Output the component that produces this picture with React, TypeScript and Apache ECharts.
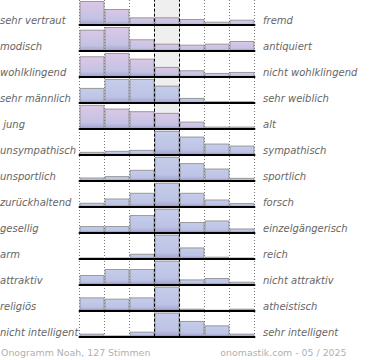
import React, { useEffect, useRef } from "react";
import * as echarts from "echarts";

const bins = ["1", "2", "3", "4", "5", "6", "7"];

const leftLabels = [
  "sehr vertraut", "modisch", "wohlklingend", "sehr männlich", " jung",
  "unsympathisch", "unsportlich", "zurückhaltend", "gesellig", "arm",
  "attraktiv", "religiös", "nicht intelligent",
];

const rightLabels = [
  "fremd", "antiquiert", "nicht wohlklingend", "sehr weiblich", "alt",
  "sympathisch", "sportlich", "forsch", "einzelgängerisch", "reich",
  "nicht attraktiv", "atheistisch", "sehr intelligent",
];

// relative share per bin, normalised so that the top bin of each row = 24
const ratings: number[][] = [
  [24, 16, 7.7, 7.7, 6, 3.3, 5.3],
  [21.3, 24, 11.7, 7.3, 6.3, 7.3, 10],
  [20.7, 24, 18.3, 10, 6.7, 4, 5],
  [15, 24, 24, 17.3, 5, 1.7, 1.7],
  [24, 20.3, 17.7, 16, 7.3, 2.3, 2.3],
  [3, 4, 5, 24, 18.3, 11.3, 9.3],
  [3.3, 4.7, 11, 24, 17.7, 12.3, 3],
  [4, 8.3, 14, 24, 14, 7.3, 3.7],
  [6.7, 6.7, 17.7, 24, 10.7, 12.3, 4.3],
  [1, 1, 5, 24, 11.3, 2, 1],
  [9.7, 15.7, 15.7, 24, 5.3, 6.7, 3],
  [13.3, 12, 13.3, 24, 2, 0.6, 2],
  [3, 1, 5, 24, 15.7, 11.3, 3],
];

const pinkRows = [0, 1, 2, 4];

const footerLeft = "Onogramm Noah, 127 Stimmen";
const footerRight = "onomastik.com - 05 / 2025";

export default function App() {
  const ref = useRef<HTMLDivElement>(null);

  useEffect(() => {
    if (!ref.current) return;
    const chart = echarts.init(ref.current, undefined, { renderer: "svg" });

    const plotLeft = 79.5;
    const plotWidth = 175;
    const baseline0 = 25;
    const rowH = 25.97;
    const barMax = 24;
    const n = ratings.length;
    const font = '"DejaVu Sans", sans-serif';

    const grids: any[] = [];
    const xAxes: any[] = [];
    const yAxes: any[] = [];
    const series: any[] = [];

    // background grid (index 0): dotted column lines, grey middle band, dashed lines
    grids.push({ left: plotLeft, width: plotWidth, top: 0, height: baseline0 + (n - 1) * rowH });
    xAxes.push({
      type: "value", gridIndex: 0, min: 0, max: 7, interval: 1,
      axisLine: { show: false }, axisTick: { show: false }, axisLabel: { show: false },
      splitLine: { show: true, lineStyle: { color: "#777", type: [1, 2], width: 1 } },
      z: 0,
    });
    yAxes.push({ type: "value", gridIndex: 0, min: 0, max: 1, show: false });
    series.push({
      type: "line", xAxisIndex: 0, yAxisIndex: 0, data: [], z: 0, silent: true,
      markArea: {
        silent: true,
        itemStyle: { color: "#efefef" },
        data: [[{ xAxis: 3 }, { xAxis: 4 }]],
      },
    });
    series.push({
      type: "line", xAxisIndex: 0, yAxisIndex: 0, data: [], z: 10, silent: true,
      markLine: {
        silent: true, symbol: "none", label: { show: false },
        lineStyle: { color: "#000", type: [3, 2], width: 1 },
        data: [{ xAxis: 3 }, { xAxis: 4 }],
      },
    });

    ratings.forEach((row, i) => {
      const gi = i + 1;
      const base = baseline0 + i * rowH;
      grids.push({ left: plotLeft, width: plotWidth, top: base - barMax, height: barMax });
      xAxes.push({
        type: "category", gridIndex: gi, data: bins, boundaryGap: true,
        axisLine: { show: true, lineStyle: { color: "#000", width: 2 } },
        axisTick: { show: false }, axisLabel: { show: false }, splitLine: { show: false },
        z: 8,
      });
      yAxes.push({ type: "value", gridIndex: gi, min: 0, max: barMax, show: false });
      const pink = pinkRows.includes(i);
      series.push({
        type: "bar", xAxisIndex: gi, yAxisIndex: gi, data: row,
        barWidth: "100%", barCategoryGap: "0%", z: 2, silent: true,
        itemStyle: {
          borderColor: "rgba(140,140,140,0.85)", borderWidth: 1,
          color: new echarts.graphic.LinearGradient(0, 0, 0, 1, [
            { offset: 0, color: pink ? "#dcc7e6" : "#c5cdea" },
            { offset: 0.75, color: pink ? "#c3c3e4" : "#bcc3e5" },
            { offset: 1, color: "#a8a2d2" },
          ]),
        },
      });
    });

    const graphics: any[] = [];
    leftLabels.forEach((t, i) => {
      const y = baseline0 - 4.5 + i * rowH;
      graphics.push({
        type: "text", x: 0, y, silent: true,
        style: { text: t, fill: "#666", font: `italic 10px ${font}`, textAlign: "left", textVerticalAlign: "middle", align: "left", verticalAlign: "middle" },
      });
    });
    rightLabels.forEach((t, i) => {
      const y = baseline0 - 4.5 + i * rowH;
      graphics.push({
        type: "text", x: 263, y, silent: true,
        style: { text: t, fill: "#666", font: `italic 10px ${font}`, textAlign: "left", textVerticalAlign: "middle", align: "left", verticalAlign: "middle" },
      });
    });
    graphics.push({
      type: "text", x: 1, y: 352.5, silent: true,
      style: { text: footerLeft, fill: "#b0b0b0", font: `9.4px ${font}`, textAlign: "left", textVerticalAlign: "middle", align: "left", verticalAlign: "middle" },
    });
    graphics.push({
      type: "text", x: 346.5, y: 352.5, silent: true,
      style: { text: footerRight, fill: "#b0b0b0", font: `9.4px ${font}`, textAlign: "right", textVerticalAlign: "middle", align: "right", verticalAlign: "middle" },
    });

    chart.setOption({
      animation: false,
      backgroundColor: "#fff",
      grid: grids,
      xAxis: xAxes,
      yAxis: yAxes,
      series,
      graphic: graphics,
    });

    return () => chart.dispose();
  }, []);

  return (
    <div
      ref={ref}
      style={{ position: "absolute", left: 0, top: 0, width: 370, height: 360 }}
    />
  );
}
